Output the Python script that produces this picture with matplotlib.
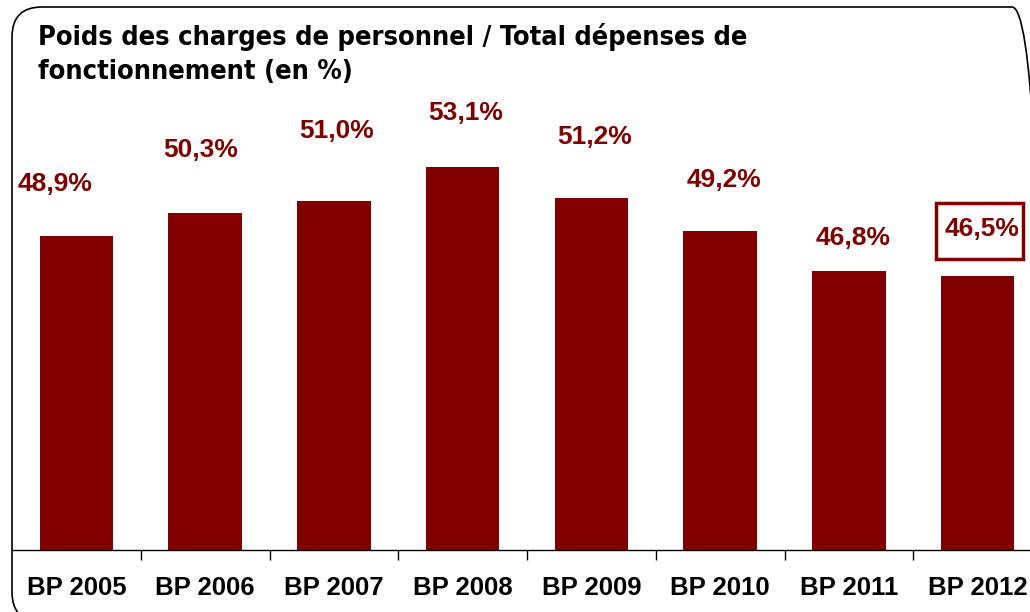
import matplotlib
matplotlib.use("Agg")
import matplotlib.pyplot as plt
from matplotlib.patches import FancyBboxPatch, Rectangle

categories = ["BP 2005", "BP 2006", "BP 2007", "BP 2008", "BP 2009", "BP 2010", "BP 2011", "BP 2012"]
values = [48.9, 50.3, 51.0, 53.1, 51.2, 49.2, 46.8, 46.5]
labels = ["48,9%", "50,3%", "51,0%", "53,1%", "51,2%", "49,2%", "46,8%", "46,5%"]
title = "Poids des charges de personnel / Total dépenses de\nfonctionnement (en %)"

# label placement (pixels, relative to bar top centre)
label_dx = [-21, -4, 3, 3, 3, 4, 4, 4]
label_dy = [52, 63, 70, 54, 61, 51, 33, 47]

red = "#800000"
W, H = 1030, 612

fig = plt.figure(figsize=(W / 100, H / 100), dpi=100)
ax = fig.add_axes([12 / W, 62 / H, 1030 / W, 498 / H])

x = range(len(values))
ax.bar(x, values, width=0.57, color=red, zorder=2)
ax.set_xlim(-0.5, 7.5)
ax.set_ylim(30, 60)

for i, (v, lab) in enumerate(zip(values, labels)):
    ax.annotate(lab, (i, v), xytext=(label_dx[i], label_dy[i]), textcoords="offset pixels",
                ha="center", va="center", fontsize=19, fontweight="bold",
                color=red, family="Liberation Sans", annotation_clip=False)

# highlight box around the last value
last = len(values) - 1
ax.add_patch(Rectangle((last - 0.323, values[last] + 1.0), 0.677, 3.38,
                       fill=False, edgecolor=red, linewidth=2.5, clip_on=False, zorder=3))

for s in ["left", "right", "top"]:
    ax.spines[s].set_visible(False)
ax.spines["bottom"].set_linewidth(1.0)
ax.set_yticks([])
ax.set_xticks(list(x))
ax.set_xticklabels(categories, fontsize=18.5, fontweight="bold", family="Liberation Sans")
ax.tick_params(axis="x", which="major", length=0, pad=18.5)
ax.set_xticks([i + 0.5 for i in range(len(values) - 1)], minor=True)
ax.tick_params(axis="x", which="minor", length=7, width=1, direction="out")

fig.text(38 / W, 1 - 23 / H, title, ha="left", va="top", fontsize=19.5, fontweight="bold",
         family="DejaVu Sans", fontstretch="condensed", linespacing=1.42)

frame = FancyBboxPatch((12, -10), 1030, H + 10 - 7, boxstyle="round,pad=0,rounding_size=30",
                       transform=None, fill=False, edgecolor="black", linewidth=1.2)
fig.patches.append(frame)

fig.savefig("out.png", dpi=100)
